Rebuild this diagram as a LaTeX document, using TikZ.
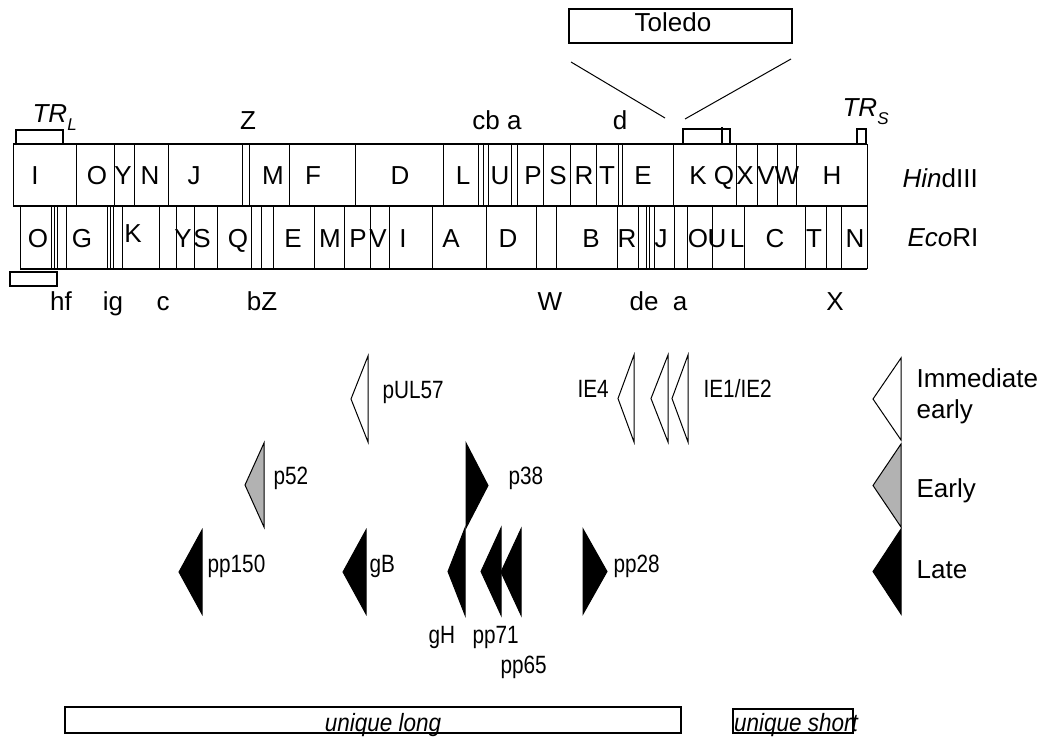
\documentclass[tikz,border=0pt]{standalone}
\usepackage{fontspec}
\setmainfont{Liberation Sans}
\newfontfamily\narrowsf{Liberation Sans}[FakeStretch=0.83]
\newfontfamily\uniquesf{Liberation Sans}[FakeStretch=0.9]
\usetikzlibrary{positioning}
\definecolor{earlygray}{RGB}{178,178,178}

\tikzset{
  frag/.style={font=\fontsize{26}{28}\selectfont, inner sep=0pt, anchor=base},
  gene/.style={font=\narrowsf\fontsize{25}{27}\selectfont, inner sep=0pt, anchor=base west},
  legend/.style={font=\fontsize{26}{28}\selectfont, inner sep=0pt, anchor=base west},
  uniq/.style={font=\uniquesf\itshape\fontsize{25}{27}\selectfont, inner sep=0pt, anchor=base},
  ie/.style={draw=black, fill=white, line width=1pt},
  early/.style={draw=black, fill=earlygray, line width=1pt},
  late/.style={draw=black, fill=black, line width=1pt},
  region/.style={draw=black, line width=1.2pt},
  cut/.style={line width=0.9pt}
}
% flat side x, tip x, top y, bottom y
\newcommand\genetri[5]{\filldraw[#1] (#2,#4) -- (#3,{(#4+#5)/2}) -- (#2,#5) -- cycle;}
\newcommand\trlabel[1]{\textit{TR}\raisebox{-0.28em}{\fontsize{17}{17}\selectfont\itshape #1}}

\begin{document}
\begin{tikzpicture}[x=1pt, y=-1pt, line width=1.2pt]
  \useasboundingbox (0,0) rectangle (1046,738);

  % Toledo insert
  \draw[region] (569,9) rectangle (792,43);
  \node[frag] (toledo) at (673,32) {Toledo};
  \coordinate (tla) at (571,62);
  \coordinate (tlb) at (665,118);
  \coordinate (tra) at (791,59);
  \coordinate (trb) at (685,119);
  \draw[line width=1pt] (tla) -- (tlb);
  \draw[line width=1pt] (tra) -- (trb);

  % terminal repeats
  \draw[region] (16,130) rectangle (63,144);
  \node[frag, anchor=base west] (trl) at (32,123) {\trlabel{L}};
  \draw[region] (857,129) rectangle (866,144);
  \node[frag, anchor=base west] (trs) at (842,117) {\trlabel{S}};
  \draw[region] (10,272) rectangle (57,286);
  \draw[region] (683,129) rectangle (730,144);
  \draw (722,127) -- (722,144);

  % HindIII row
  \draw (13,144) -- (867,144);
  \draw (13,206) -- (867,206);
  \foreach \x in {13,76,114,134,168,242,249,289,355,443,478,483,488,511,517,
                  543,570,596,618,622,673,736,757,777,796,867}
    \draw[cut] (\x,144) -- (\x,206);
  \foreach \x/\t [count=\i] in {35/I,97/O,123/Y,150/N,194/J,273/M,313/F,400/D,
      463/L,500/U,533/P,558/S,584/R,607/T,643/E,698/K,724/Q,745/X,766/V,787/W,832/H}
    \node[frag] (h\i) at (\x,185) {\t};
  \node[frag, anchor=base west] (hind) at (902,187) {\textit{Hin}dIII};

  % EcoRI row
  \draw (20,269) -- (867,269);
  \foreach \x in {20,51,54,57,66,107,110,113,122,159,176,194,217,251,261,273,
                  314,344,370,389,432,486,536,556,617,638,646,649,654,674,687,
                  712,744,805,826,841,867}
    \draw[cut] (\x,206) -- (\x,269);
  \foreach \x/\t [count=\i] in {38/O,82/G,183/Y,202/S,238/Q,293/E,330/M,358/P,
      378/V,403/I,451/A,508/D,591/B,627/R,661/J,698/O,717/U,737/L,775/C,814/T,855/N}
    \node[frag] (e\i) at (\x,247) {\t};
  \node[frag] (ek) at (133,242) {K};
  \node[frag, anchor=base west] (eco) at (907,246) {\textit{Eco}RI};

  % small fragments above and below
  \node[frag] (zt) at (248,130) {Z};
  \node[frag] (cba) at (497,130) {cb a};
  \node[frag] (dt) at (620,130) {d};
  \foreach \x/\t [count=\i] in {61/hf,113/ig,163/c,262/bZ,550/W,644/de,680/a,835/X}
    \node[frag] (b\i) at (\x,310) {\t};

  % immediate early
  \genetri{ie}{368}{351}{356}{442}
  \node[gene] (pul57) at (382,398) {pUL57};
  \genetri{ie}{634}{618}{355}{442}
  \genetri{ie}{668}{651}{355}{442}
  \genetri{ie}{688}{672}{355}{442}
  \node[gene] (ie4) at (577,397) {IE4};
  \node[gene] (ie12) at (703,397) {IE1/IE2};

  % early
  \genetri{early}{264}{245}{443}{527}
  \node[gene] (p52) at (273,484) {p52};
  \genetri{late}{466}{488}{443}{528}
  \node[gene] (p38) at (508,484) {p38};

  % late
  \genetri{late}{202}{179}{530}{614}
  \node[gene] (pp150) at (207,572) {pp150};
  \genetri{late}{366}{343}{530}{614}
  \node[gene] (gb) at (369,572) {gB};
  \genetri{late}{465}{448}{528}{615}
  \genetri{late}{501}{481}{528}{615}
  \genetri{late}{521}{501}{529}{615}
  \node[gene] (gh) at (428,643) {gH};
  \node[gene] (pp71) at (472,643) {pp71};
  \node[gene] (pp65) at (500,673) {pp65};
  \genetri{late}{583}{607}{529}{614}
  \node[gene] (pp28) at (613,572) {pp28};

  % legend
  \genetri{ie}{901}{873}{358}{440}
  \genetri{early}{901}{873}{444}{527}
  \genetri{late}{901}{873}{529}{614}
  \node[legend] (leg1) at (916,387) {Immediate};
  \node[legend] (leg2) at (916,418) {early};
  \node[legend] (leg3) at (916,497) {Early};
  \node[legend] (leg4) at (916,578) {Late};

  % unique regions
  \draw[region] (65,707) rectangle (681,733);
  \node[uniq] (ul) at (383,731) {unique long};
  \draw[region] (733,709) rectangle (853,733);
  \node[uniq] (us) at (796,731) {unique short};
\end{tikzpicture}
\end{document}
